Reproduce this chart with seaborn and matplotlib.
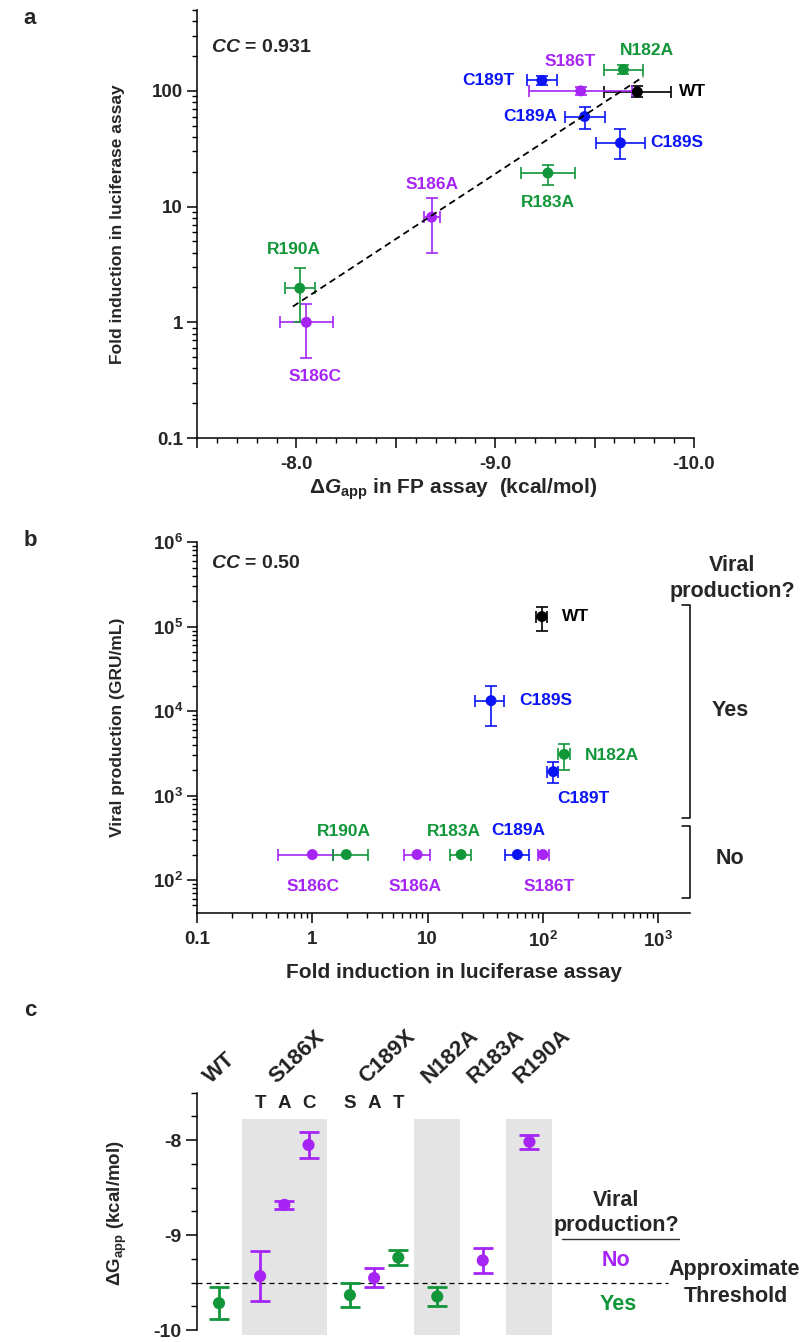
import numpy as np
import pandas as pd
import matplotlib
matplotlib.use("Agg")
import matplotlib.pyplot as plt
import matplotlib.transforms as mtransforms
from matplotlib.lines import Line2D
from matplotlib.ticker import FixedLocator, FixedFormatter, NullFormatter, LogLocator, MultipleLocator
import seaborn as sns

# ---------------- data ----------------
mutants = ['WT', 'S186T', 'S186A', 'S186C', 'C189S', 'C189A', 'C189T', 'N182A', 'R183A', 'R190A']
groups = ['WT', 'S186X', 'S186X', 'S186X', 'C189X', 'C189X', 'C189X', 'N182A', 'R183A', 'R190A']
subst_letters = ['', 'T', 'A', 'C', 'S', 'A', 'T', '', '', '']
viral_production = ['Yes', 'No', 'No', 'No', 'Yes', 'No', 'Yes', 'Yes', 'No', 'No']

dG = [-9.715, -9.43, -8.68, -8.05, -9.63, -9.45, -9.235, -9.645, -9.265, -8.017]
dG_err = [0.17, 0.26, 0.04, 0.135, 0.125, 0.10, 0.075, 0.10, 0.135, 0.075]

fold = [98, 100, 8.1, 1.0, 35.5, 60, 123, 153, 19.5, 1.97]
fold_lo_a = [88, 92, 4.0, 0.49, 26, 46.5, 113, 141, 15.5, 1.0]
fold_hi_a = [110, 108, 11.8, 1.44, 46.5, 72.6, 134, 166, 23, 2.97]
fold_lo_b = [86.5, 90, 6.3, 0.5, 25.8, 46.5, 108, 136, 15.5, 1.51]
fold_hi_b = [109, 113, 10.4, 1.51, 46, 76, 136, 172, 24, 3.02]

viral = [1.32e5, 200, 200, 200, 1.33e4, 200, 1.92e3, 3.08e3, 200, 200]
viral_lo = [8.9e4, np.nan, np.nan, np.nan, 6.7e3, np.nan, 1.42e3, 2.0e3, np.nan, np.nan]
viral_hi = [1.73e5, np.nan, np.nan, np.nan, 2.0e4, np.nan, 2.48e3, 4.07e3, np.nan, np.nan]

cc_a = '0.931'
cc_b = '0.50'

a_yticks = [0.1, 1, 10, 100]
a_yticklabels = ['0.1', '1', '10', '100']
a_xticks = [-8.0, -9.0, -10.0]
a_xticklabels = ['-8.0', '-9.0', '-10.0']
b_xticks = [0.1, 1, 10, 100, 1000]
b_xticklabels = ['0.1', '1', '10', r'$10^2$', r'$10^3$']
b_yticks = [1e2, 1e3, 1e4, 1e5, 1e6]
b_yticklabels = [r'$10^2$', r'$10^3$', r'$10^4$', r'$10^5$', r'$10^6$']
c_yticks = [-8, -9, -10]
c_yticklabels = ['-8', '-9', '-10']

# ---------------- style ----------------
GREEN = '#12963a'
BLUE = '#0a14f5'
PURPLE = '#a625f5'
family_colors = {'WT': 'black', 'S186X': PURPLE, 'C189X': BLUE,
                 'N182A': GREEN, 'R183A': GREEN, 'R190A': GREEN}
viral_colors = {'Yes': GREEN, 'No': PURPLE}

sns.set_theme(style='ticks')
plt.rcParams['font.family'] = ['Liberation Sans', 'DejaVu Sans']
plt.rcParams['font.weight'] = 'bold'
plt.rcParams['axes.labelweight'] = 'bold'
plt.rcParams['mathtext.fontset'] = 'custom'
plt.rcParams['mathtext.rm'] = 'Liberation Sans:bold'
plt.rcParams['mathtext.bf'] = 'Liberation Sans:bold'
plt.rcParams['mathtext.it'] = 'Liberation Sans:bold:italic'
plt.rcParams['mathtext.default'] = 'rm'

TICK_FS = 13.5
LAB_FS = 12.5
XLAB_FS = 15
YLAB_FS = 12.5
SIDE_FS = 15.5

df = pd.DataFrame({'mutant': mutants, 'group': groups, 'dG': dG, 'dG_err': dG_err,
                   'fold': fold, 'viral': viral, 'prod': viral_production})
df['family'] = df['group']

W, H = 803, 1342
fig = plt.figure(figsize=(W / 100, H / 100), dpi=100)


def rect(l, t, r, b):
    return [l / W, 1 - b / H, (r - l) / W, (b - t) / H]


def ftext(x, y, s, **kw):
    return fig.text(x / W, 1 - y / H, s, **kw)


def fline(xs, ys, **kw):
    fig.add_artist(Line2D([x / W for x in xs], [1 - y / H for y in ys], **kw))


def style_axes(ax, spines=('left', 'bottom')):
    for side in ['left', 'right', 'top', 'bottom']:
        ax.spines[side].set_visible(side in spines)
        ax.spines[side].set_linewidth(1.1)
        ax.spines[side].set_color('black')
    ax.tick_params(which='major', length=7, width=1.1, labelsize=TICK_FS, pad=3, color='black')
    ax.tick_params(which='minor', length=3.5, width=1.0, color='black')
    ax.set_facecolor('none')


# ================= panel a =================
axA = fig.add_axes(rect(197, 10, 694, 438))
axA.set_yscale('log')
axA.set_xlim(-7.5, -10.0)
axA.set_ylim(0.1, 500)
style_axes(axA)
axA.xaxis.set_major_locator(FixedLocator([-7.5, -8.0, -8.5, -9.0, -9.5, -10.0]))
axA.xaxis.set_major_formatter(FixedFormatter(['', a_xticklabels[0], '', a_xticklabels[1], '',
                                              a_xticklabels[2]]))
axA.xaxis.set_minor_locator(MultipleLocator(0.1))
axA.yaxis.set_major_locator(FixedLocator(a_yticks))
axA.yaxis.set_major_formatter(FixedFormatter(a_yticklabels))
axA.yaxis.set_minor_locator(LogLocator(base=10, subs=np.arange(2, 10), numticks=20))
axA.yaxis.set_minor_formatter(NullFormatter())
axA.tick_params(axis='x', which='major', pad=6)

for i, r in df.iterrows():
    c = family_colors[r['family']]
    axA.errorbar(r['dG'], r['fold'], xerr=r['dG_err'],
                 yerr=[[r['fold'] - fold_lo_a[i]], [fold_hi_a[i] - r['fold']]],
                 fmt='none', ecolor=c, elinewidth=1.2, capsize=4, capthick=1.2, zorder=2)
sns.scatterplot(data=df, x='dG', y='fold', hue='family', palette=family_colors, s=62,
                edgecolor='none', legend=False, ax=axA, zorder=3)
coef = np.polyfit(df['dG'], np.log10(df['fold']), 1)
xs = np.array([df['dG'].max() + 0.035, df['dG'].min() - 0.03])
axA.plot(xs, 10 ** np.polyval(coef, xs), color='black', lw=1.3, ls=(0, (3.7, 2.4)), zorder=4)
axA.set_xlabel('')
axA.set_ylabel('')

offs_a = {'WT': (42, 0, 'left'), 'S186T': (-10, 29, 'center'), 'S186A': (0, 33, 'center'),
          'S186C': (9, -54, 'center'), 'C189S': (30, 0, 'left'), 'C189A': (-27, 0, 'right'),
          'C189T': (-27, 0, 'right'), 'N182A': (24, 19, 'center'), 'R183A': (0, -29, 'center'),
          'R190A': (-6, 39, 'center')}
for i, r in df.iterrows():
    dx, dy, ha = offs_a[r['mutant']]
    axA.annotate(r['mutant'], (r['dG'], r['fold']), xytext=(dx, dy), textcoords='offset pixels',
                 ha=ha, va='center', fontsize=LAB_FS, fontweight='bold',
                 color=family_colors[r['family']])

ftext(211, 48, r'$\mathit{CC}$ = ' + cc_a, fontsize=14, ha='left', va='center')
ftext(453, 489, r'$\Delta\mathit{G}_{\mathrm{app}}$ in FP assay  (kcal/mol)', fontsize=XLAB_FS,
      ha='center', va='center')
ftext(118, 224, 'Fold induction in luciferase assay', fontsize=YLAB_FS, rotation=90,
      ha='center', va='center')

# ================= panel b =================
axB = fig.add_axes(rect(197, 542.3, 690, 913))
axB.set_xscale('log')
axB.set_yscale('log')
axB.set_xlim(0.1, 1885)
axB.set_ylim(40.6, 1e6)
style_axes(axB)
axB.xaxis.set_major_locator(FixedLocator(b_xticks))
axB.xaxis.set_major_formatter(FixedFormatter(b_xticklabels))
axB.yaxis.set_major_locator(FixedLocator(b_yticks))
axB.yaxis.set_major_formatter(FixedFormatter(b_yticklabels))
for axis in (axB.xaxis, axB.yaxis):
    axis.set_minor_locator(LogLocator(base=10, subs=np.arange(2, 10), numticks=20))
    axis.set_minor_formatter(NullFormatter())
axB.tick_params(axis='x', which='major', pad=6)

for i, r in df.iterrows():
    c = family_colors[r['family']]
    axB.errorbar(r['fold'], r['viral'],
                 xerr=[[r['fold'] - fold_lo_b[i]], [fold_hi_b[i] - r['fold']]],
                 fmt='none', ecolor=c, elinewidth=1.2, capsize=4, capthick=1.2, zorder=2)
    if not np.isnan(viral_lo[i]):
        axB.errorbar(r['fold'], r['viral'],
                     yerr=[[r['viral'] - viral_lo[i]], [viral_hi[i] - r['viral']]],
                     fmt='none', ecolor=c, elinewidth=1.2, capsize=4, capthick=1.2, zorder=2)
sns.scatterplot(data=df, x='fold', y='viral', hue='family', palette=family_colors, s=62,
                edgecolor='none', legend=False, ax=axB, zorder=3)
axB.set_xlabel('')
axB.set_ylabel('')

offs_b = {'WT': (20, 0, 'left'), 'C189S': (28, 0, 'left'), 'N182A': (21, -1, 'left'),
          'C189T': (30, -27, 'center'), 'C189A': (1, 24, 'center'), 'R183A': (-7, 23, 'center'),
          'R190A': (-2, 23, 'center'), 'S186C': (1, -32, 'center'), 'S186A': (-2, -32, 'center'),
          'S186T': (6, -32, 'center')}
for i, r in df.iterrows():
    dx, dy, ha = offs_b[r['mutant']]
    axB.annotate(r['mutant'], (r['fold'], r['viral']), xytext=(dx, dy), textcoords='offset pixels',
                 ha=ha, va='center', fontsize=LAB_FS, fontweight='bold',
                 color=family_colors[r['family']])

ftext(211, 564, r'$\mathit{CC}$ = ' + cc_b, fontsize=14, ha='left', va='center')
ftext(454, 972, 'Fold induction in luciferase assay', fontsize=XLAB_FS, ha='center', va='center')
ftext(118, 727, 'Viral production (GRU/mL)', fontsize=YLAB_FS, rotation=90, ha='center', va='center')

ftext(732, 565, 'Viral', fontsize=SIDE_FS, ha='center', va='center')
ftext(732, 591, 'production?', fontsize=SIDE_FS, ha='center', va='center')
fline([682, 690, 690, 682], [605, 605, 818, 818], color='black', lw=1.1)
fline([682, 690, 690, 682], [826, 826, 898, 898], color='black', lw=1.1)
ftext(730, 710, 'Yes', fontsize=SIDE_FS, ha='center', va='center')
ftext(730, 859, 'No', fontsize=SIDE_FS, ha='center', va='center')

# ================= panel c =================
# x layout: unit step inside a group, wider gaps between groups
group_gaps = [1.7, 1.71, 1.61, 1.88, 1.93]
xpos = []
gi = 0
for i, g in enumerate(groups):
    if i == 0:
        xpos.append(0.0)
    elif g == groups[i - 1]:
        xpos.append(xpos[-1] + 1.0)
    else:
        xpos.append(xpos[-1] + group_gaps[gi])
        gi += 1
df['xpos'] = xpos

DY = -4  # small upward shift of panel c so the bottom tick label stays inside the figure
axC = fig.add_axes(rect(197, 1096.7 + DY, 667.6, 1339 + DY))
axC.set_ylim(-10.05, -7.5)
axC.set_xlim(-0.91, 18.54)
style_axes(axC, spines=('left',))
axC.spines['left'].set_bounds(-10, -7.5)
axC.yaxis.set_major_locator(FixedLocator(c_yticks))
axC.yaxis.set_major_formatter(FixedFormatter(c_yticklabels))
axC.yaxis.set_minor_locator(MultipleLocator(0.25))
axC.tick_params(axis='y', which='major', length=8, labelsize=14)
axC.tick_params(axis='y', which='minor', length=4.5)
axC.set_xticks([])

shaded = ['S186X', 'N182A', 'R190A']
band_top = (-7.775 + 10.05) / 2.55
for g in shaded:
    sub = df[df['group'] == g]
    pad = 0.95 if len(sub) == 1 else 0.76
    axC.axvspan(sub['xpos'].min() - pad, sub['xpos'].max() + pad, ymin=0, ymax=band_top,
                color='#e4e4e4', lw=0, zorder=0)

axC.axhline(-9.5, color='black', lw=0.9, ls=(0, (4, 3.2)), zorder=1, clip_on=False)

for i, r in df.iterrows():
    c = viral_colors[r['prod']]
    axC.errorbar(r['xpos'], r['dG'], yerr=r['dG_err'], fmt='none', ecolor=c,
                 elinewidth=2.0, capsize=7, capthick=2.0, zorder=2)
sns.scatterplot(data=df, x='xpos', y='dG', hue='prod', palette=viral_colors, s=76,
                edgecolor='none', legend=False, ax=axC, zorder=3)
axC.set_xlabel('')
axC.set_ylabel('')

blend = mtransforms.blended_transform_factory(axC.transData, fig.transFigure)
for i, r in df.iterrows():
    if subst_letters[i]:
        axC.text(r['xpos'], 1 - (1108 + DY) / H, subst_letters[i], transform=blend, fontsize=13.5,
                 fontweight='bold', ha='center', va='center', color='#222222')
for g in dict.fromkeys(groups):
    cx = df[df['group'] == g]['xpos'].mean()
    axC.text(cx - 0.35, 1 - (1088 + DY) / H, g, transform=blend, rotation=43,
             rotation_mode='anchor', ha='left', va='baseline', fontsize=16, fontweight='bold',
             color='#222222')

ftext(117, 1217 + DY, r'$\Delta\mathrm{G}_{\mathrm{app}}$ (kcal/mol)', fontsize=YLAB_FS + 1,
      rotation=90, ha='center', va='center')
ftext(616, 1204 + DY, 'Viral', fontsize=SIDE_FS, ha='center', va='center')
ftext(616, 1230 + DY, 'production?', fontsize=SIDE_FS, ha='center', va='center')
fline([562, 679], [1243 + DY, 1243 + DY], color='#333333', lw=1.0)
ftext(616, 1265 + DY, 'No', fontsize=SIDE_FS, color=PURPLE, ha='center', va='center')
ftext(618, 1309 + DY, 'Yes', fontsize=SIDE_FS, color=GREEN, ha='center', va='center')
ftext(734, 1274 + DY, 'Approximate', fontsize=SIDE_FS, ha='center', va='center')
ftext(736, 1300 + DY, 'Threshold', fontsize=SIDE_FS, ha='center', va='center')

# panel letters
ftext(30, 18, 'a', fontsize=16, fontweight='bold', ha='center', va='center')
ftext(30, 540, 'b', fontsize=16, fontweight='bold', ha='center', va='center')
ftext(30, 1010, 'c', fontsize=16, fontweight='bold', ha='center', va='center')

fig.savefig('out.png', dpi=100)
